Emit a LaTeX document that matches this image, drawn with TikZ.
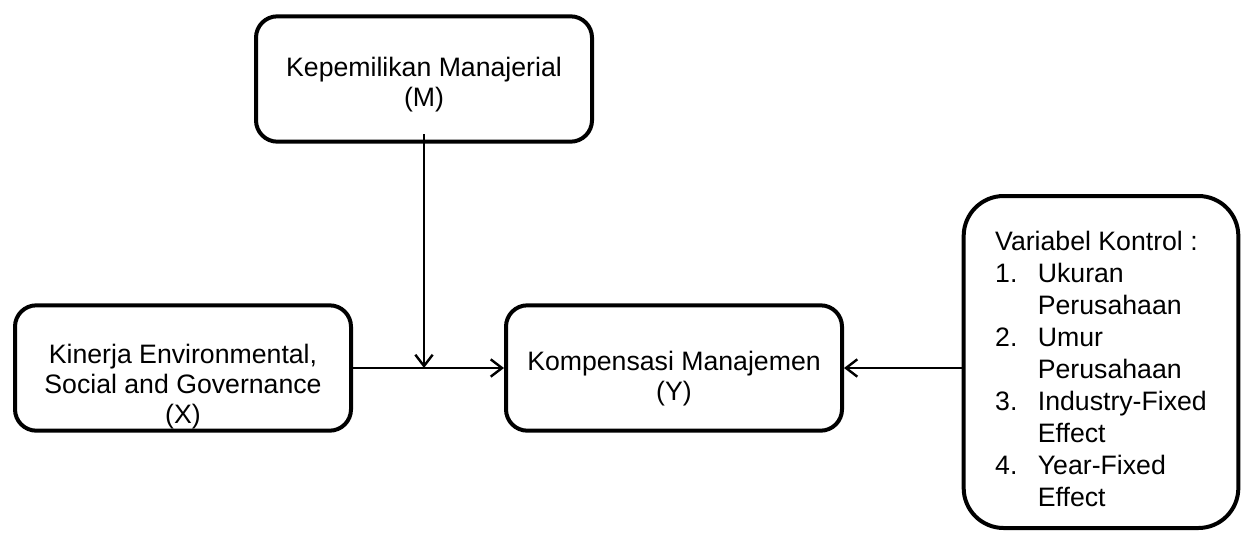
\documentclass[tikz,border=0pt]{standalone}
\usepackage{fontspec}
\setmainfont{Liberation Sans}
\usetikzlibrary{arrows.meta}
\tikzset{every picture/.style={line width=0.75pt}}
\newcommand{\ruangatas}[1]{\rule{0pt}{#1}}
\tikzset{
  blok/.style={draw, line width=3pt, rounded corners=16pt, align=center,
    minimum width=252pt, minimum height=94pt, inner sep=0pt,
    font=\fontsize{20}{22.5}\selectfont},
  kontrolbox/.style={draw, line width=3pt, rounded corners=30pt, align=left,
    minimum width=206pt, minimum height=249pt, inner sep=0pt,
    font=\fontsize{20}{24}\selectfont},
  panah/.style={line width=1.8pt, -{Straight Barb[length=8.5pt,width=13pt,line width=1.8pt]}}
}

\begin{document}
\begin{tikzpicture}[x=0.75pt,y=0.75pt,yscale=-1,xscale=1]
\useasboundingbox (0,0) rectangle (1244,533);

% Boxes
\node[blok] (m) at (424,79) {\ruangatas{23pt}Kepemilikan Manajerial\\(M)};
\node[blok] (x) at (183,368) {\ruangatas{42pt}Kinerja Environmental,\\Social and Governance\\(X)};
\node[blok] (y) at (674,368) {\ruangatas{30pt}Kompensasi Manajemen\\(Y)};
\node[kontrolbox] (k) at (1101,362) {\ruangatas{25pt}Variabel Kontrol :\\
  \makebox[32pt][l]{1.}Ukuran\\
  \hspace*{32pt}Perusahaan\\
  \makebox[32pt][l]{2.}Umur\\
  \hspace*{32pt}Perusahaan\\
  \makebox[32pt][l]{3.}Industry-Fixed\\
  \hspace*{32pt}Effect\\
  \makebox[32pt][l]{4.}Year-Fixed\\
  \hspace*{32pt}Effect};

% Connectors
\coordinate (mbawah) at ([yshift=-7pt]m.south);
\coordinate (temu) at (mbawah |- x.east);
\coordinate (kkiri) at (k.west |- y.east);
\draw[panah] (mbawah) -- (temu);
\draw[panah] (x.east) -- (y.west);
\draw[panah] (kkiri) -- (y.east);

\end{tikzpicture}
\end{document}
